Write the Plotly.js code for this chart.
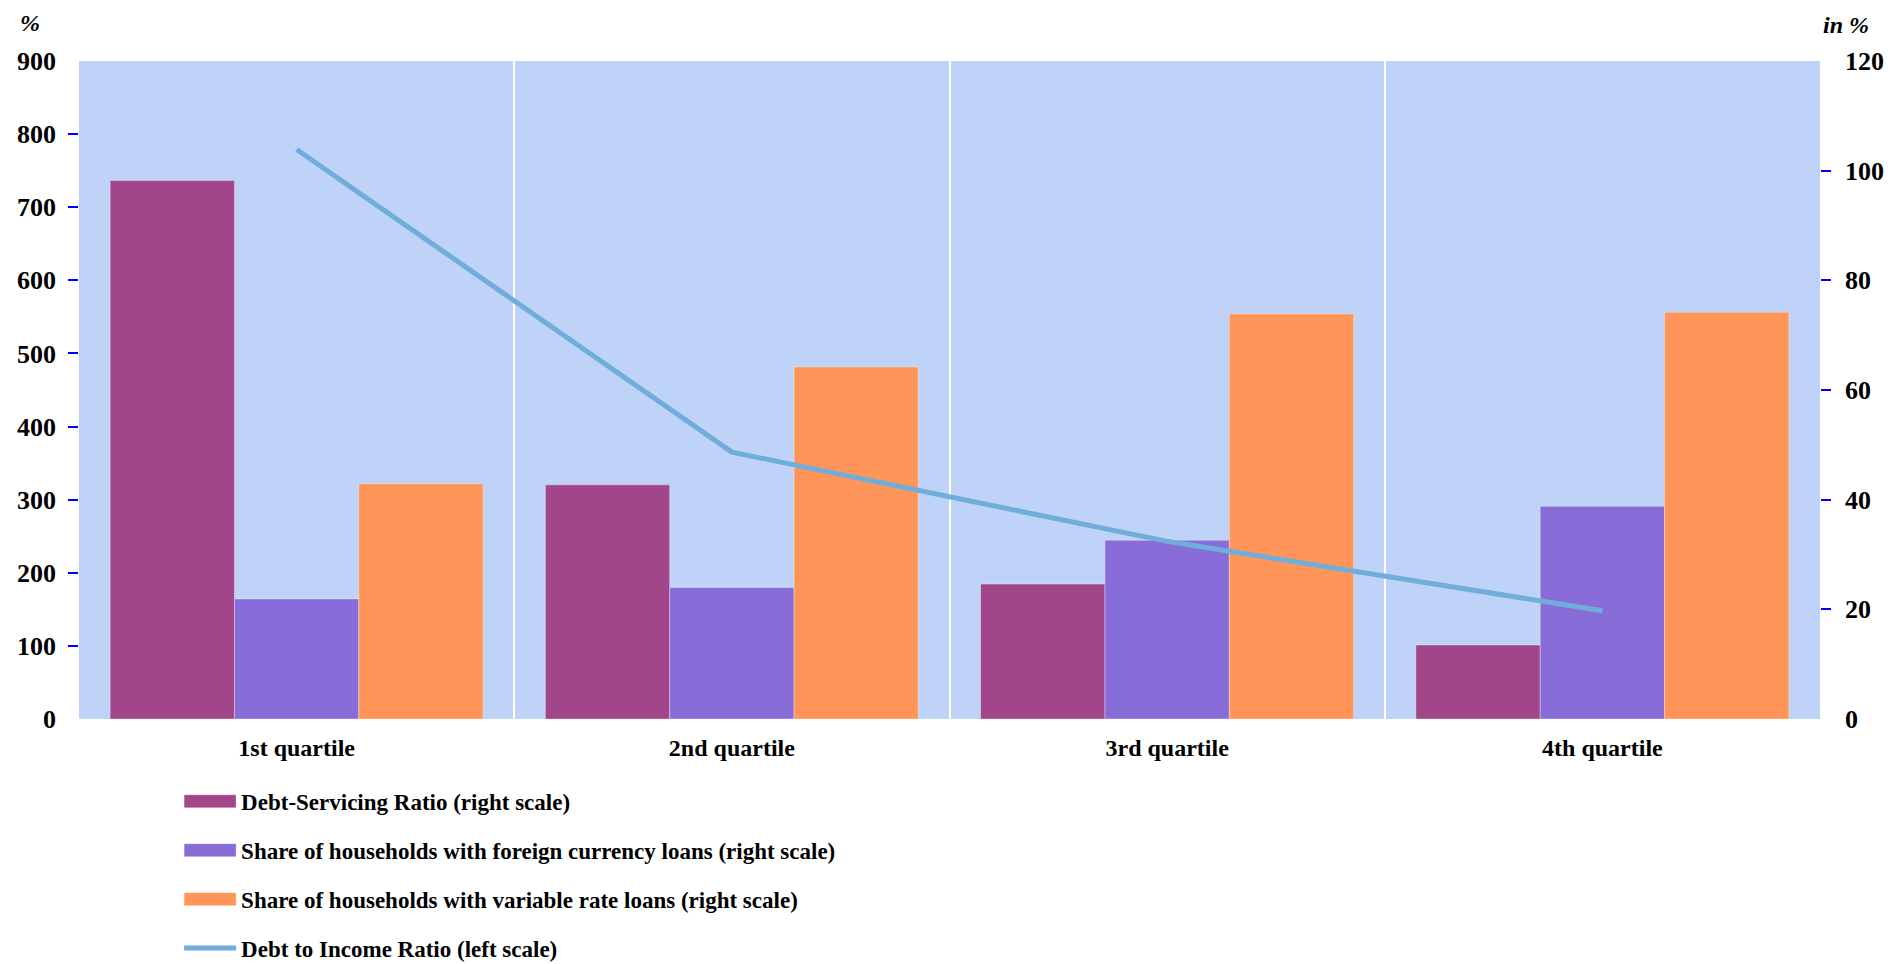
<!DOCTYPE html>
<html>
<head>
<meta charset="utf-8">
<script src="https://cdn.plot.ly/plotly-3.0.1.min.js"></script>
<style>
  html, body { margin: 0; padding: 0; background: #ffffff; }
  #chart { width: 1890px; height: 964px; }
</style>
</head>
<body>
<div id="chart"></div>
<script>
// Household debt indicators by income quartile
const categories = ['1st quartile', '2nd quartile', '3rd quartile', '4th quartile'];

// Right scale (in %)
const debtServicingRatio = [98.2, 42.7, 24.6, 13.5];
const foreignCurrencyShare = [21.9, 24.0, 32.6, 38.8];
const variableRateShare = [42.9, 64.2, 73.9, 74.2];

// Left scale (%)
const debtToIncome = [779, 365, 243, 148];

const leftTicks = [0, 100, 200, 300, 400, 500, 600, 700, 800, 900];
const rightTicks = [0, 20, 40, 60, 80, 100, 120];
const leftInnerTicks = [100, 200, 300, 400, 500, 600, 700, 800];
const rightInnerTicks = [20, 40, 60, 80, 100];

const seriesNames = [
  'Debt-Servicing Ratio (right scale)',
  'Share of households with foreign currency loans (right scale)',
  'Share of households with variable rate loans (right scale)',
  'Debt to Income Ratio (left scale)'
];

const colors = {
  dsr: '#A2468A',
  fx: '#886CD8',
  variable: '#FF9558',
  line: '#6FAEDB',
  plotBg: '#BFD2F8',
  tick: '#0000FF'
};

const FONT = 'Liberation Serif, Times New Roman, serif';

const barEdge = { width: 1, color: 'rgba(255,255,255,0.35)' };

const traces = [
  {
    type: 'bar', name: seriesNames[0], x: categories, y: debtServicingRatio,
    marker: { color: colors.dsr, line: barEdge }, yaxis: 'y', legendgroup: 'a'
  },
  {
    type: 'bar', name: seriesNames[1], x: categories, y: foreignCurrencyShare,
    marker: { color: colors.fx, line: barEdge }, yaxis: 'y', legendgroup: 'b'
  },
  {
    type: 'bar', name: seriesNames[2], x: categories, y: variableRateShare,
    marker: { color: colors.variable, line: barEdge }, yaxis: 'y', legendgroup: 'c'
  },
  {
    type: 'scatter', mode: 'lines', name: seriesNames[3], x: categories, y: debtToIncome,
    line: { color: colors.line, width: 5 }, yaxis: 'y2', legendgroup: 'd'
  },
  // carriers for the tick-only axes
  { type: 'scatter', mode: 'lines', x: [], y: [], yaxis: 'y3', showlegend: false, hoverinfo: 'skip' },
  { type: 'scatter', mode: 'lines', x: [], y: [], yaxis: 'y4', showlegend: false, hoverinfo: 'skip' }
];

const tickFont = { family: FONT, size: 26, color: '#000000', weight: 'bold' };

const layout = {
  width: 1890,
  height: 964,
  margin: { l: 79, r: 70, t: 61, b: 245, autoexpand: false },
  paper_bgcolor: '#ffffff',
  plot_bgcolor: colors.plotBg,
  font: { family: FONT, color: '#000000', weight: 'bold' },
  barmode: 'group',
  bargap: 0.143,
  bargroupgap: 0,
  showlegend: true,
  legend: {
    xref: 'paper', x: 0.0575, xanchor: 'left',
    yref: 'container', y: 0.191, yanchor: 'top',
    orientation: 'v',
    traceorder: 'grouped',
    tracegroupgap: 16,
    itemwidth: 52,
    maxheight: 400,
    font: { family: FONT, size: 23, color: '#000000', weight: 'bold' },
    bgcolor: 'rgba(0,0,0,0)'
  },
  xaxis: {
    type: 'category',
    tickson: 'boundaries',
    showgrid: true,
    gridcolor: '#ffffff',
    gridwidth: 2,
    ticks: '',
    showline: false,
    zeroline: false,
    tickfont: { family: FONT, size: 24, color: '#000000', weight: 'bold' },
    ticklabelstandoff: 12
  },
  yaxis: {
    side: 'right',
    range: [0, 120],
    tickvals: rightTicks,
    ticks: '',
    showgrid: false,
    zeroline: false,
    showline: false,
    tickfont: tickFont,
    ticklabelstandoff: 24
  },
  yaxis2: {
    overlaying: 'y',
    side: 'left',
    range: [0, 900],
    tickvals: leftTicks,
    ticks: '',
    showgrid: false,
    zeroline: false,
    showline: false,
    tickfont: tickFont,
    ticklabelstandoff: 22
  },
  yaxis3: {
    overlaying: 'y',
    side: 'left',
    range: [0, 900],
    tickvals: leftInnerTicks,
    ticks: 'outside', ticklen: 10, tickwidth: 2, tickcolor: colors.tick,
    showticklabels: false, showgrid: false, zeroline: false, showline: false
  },
  yaxis4: {
    overlaying: 'y',
    side: 'right',
    range: [0, 120],
    tickvals: rightInnerTicks,
    ticks: 'outside', ticklen: 10, tickwidth: 2, tickcolor: colors.tick,
    showticklabels: false, showgrid: false, zeroline: false, showline: false
  },
  annotations: [
    {
      text: '%', xref: 'paper', yref: 'paper', x: -0.028, y: 1.057,
      xanchor: 'center', yanchor: 'middle', showarrow: false,
      font: { family: FONT, size: 24, color: '#000000', weight: 'bold', style: 'italic' }
    },
    {
      text: 'in %', xref: 'paper', yref: 'paper', x: 1.015, y: 1.055,
      xanchor: 'center', yanchor: 'middle', showarrow: false,
      font: { family: FONT, size: 24, color: '#000000', weight: 'bold', style: 'italic' }
    }
  ]
};

Plotly.newPlot('chart', traces, layout, { displayModeBar: false, staticPlot: true }).then(function (gd) {
  // widen the bar swatches in the legend into long flat bars
  const w = 52, h = 6.5;
  gd.querySelectorAll('.legend .legendpoints path').forEach(function (p) {
    p.setAttribute('d', 'M' + (w / 2) + ',' + h + 'H' + (-w / 2) + 'V' + (-h) + 'H' + (w / 2) + 'Z');
  });
});
</script>
</body>
</html>
